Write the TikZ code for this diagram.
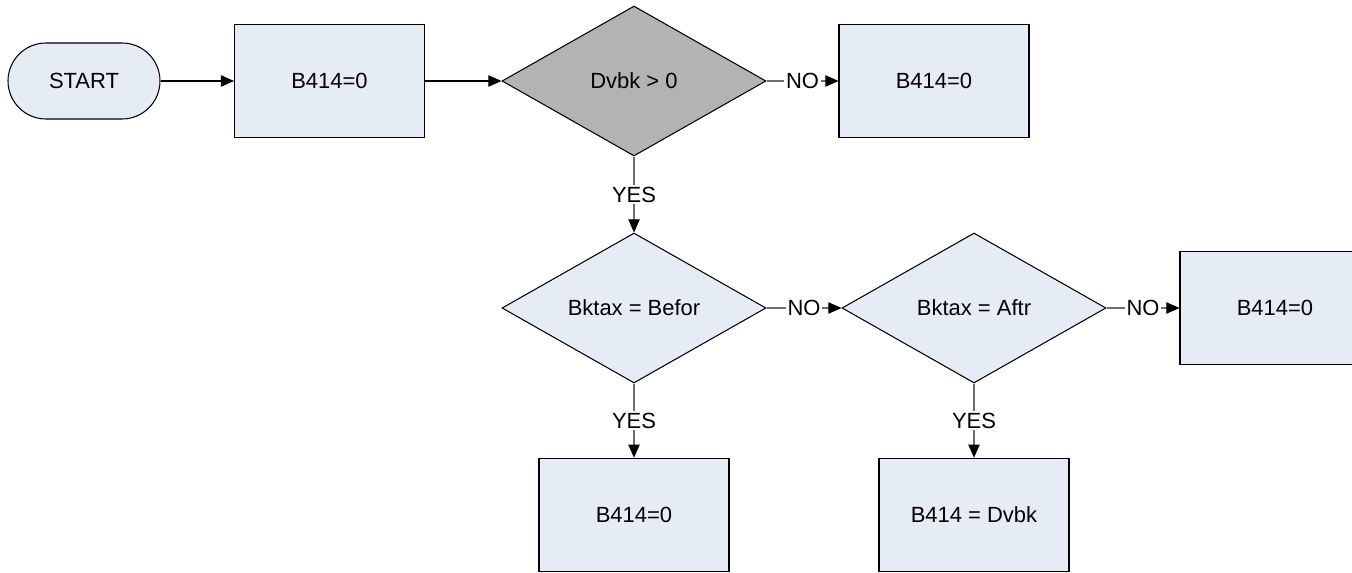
\documentclass[tikz,border=0pt]{standalone}
\usepackage{fontspec}
\setmainfont{Liberation Sans}
\usepackage{xcolor}
\definecolor{fcfill}{RGB}{230,236,246}
\definecolor{fcgray}{RGB}{179,179,179}
\definecolor{fcline}{RGB}{110,110,110}
\usepackage{tikz}
\usetikzlibrary{arrows.meta, positioning, shapes.geometric}

\begin{document}
\begin{tikzpicture}[
    font=\fontsize{12.5}{15}\selectfont,
    procbox/.style={draw=black, fill=fcfill, line width=0.6pt, minimum width=3.8cm, minimum height=2.27cm},
    decbox/.style={diamond, draw=black, fill=fcfill, line width=0.6pt, inner sep=0pt, minimum width=5.28cm, minimum height=3cm},
    termbox/.style={draw=black, fill=fcfill, line width=0.6pt, rounded corners=0.76cm, minimum width=3.04cm, minimum height=1.52cm},
    flow/.style={line width=0.6pt, -{Triangle[length=7.5pt, width=6.5pt, color=black]}},
    branch/.style={flow, draw=fcline},
    tag/.style={fill=white, inner sep=1pt, text=black}
  ]
  \useasboundingbox (0,0) rectangle (27.04,-11.46);

  % --- Top row ---
  \node[termbox] (start) at (1.68,-1.62) {START};
  \node[procbox] (init) at (6.59,-1.62) {B414=0};
  \node[decbox, fill=fcgray] (dvbk) at (12.68,-1.62) {Dvbk > 0};
  \node[procbox] (zeroA) at (18.68,-1.62) {B414=0};

  % --- Middle row ---
  \node[decbox] (befor) at (12.68,-6.16) {Bktax = Befor};
  \node[decbox] (aftr) at (19.48,-6.16) {Bktax = Aftr};
  \node[procbox] (zeroB) at (25.5,-6.16) {B414=0};

  % --- Bottom row ---
  \node[procbox] (zeroC) at (12.68,-10.3) {B414=0};
  \node[procbox] (setdv) at (19.48,-10.3) {B414 = Dvbk};

  % Connectors
  \draw[flow] (start) -- (init);
  \draw[flow] (init) -- (dvbk);
  \draw[branch] (dvbk) -- node[tag] {NO} (zeroA);
  \draw[branch] (dvbk) -- node[tag] {YES} (befor);
  \draw[branch] (befor) -- node[tag] {NO} (aftr);
  \draw[branch] (aftr) -- node[tag] {NO} (zeroB);
  \draw[branch] (befor) -- node[tag] {YES} (zeroC);
  \draw[branch] (aftr) -- node[tag] {YES} (setdv);
\end{tikzpicture}
\end{document}
